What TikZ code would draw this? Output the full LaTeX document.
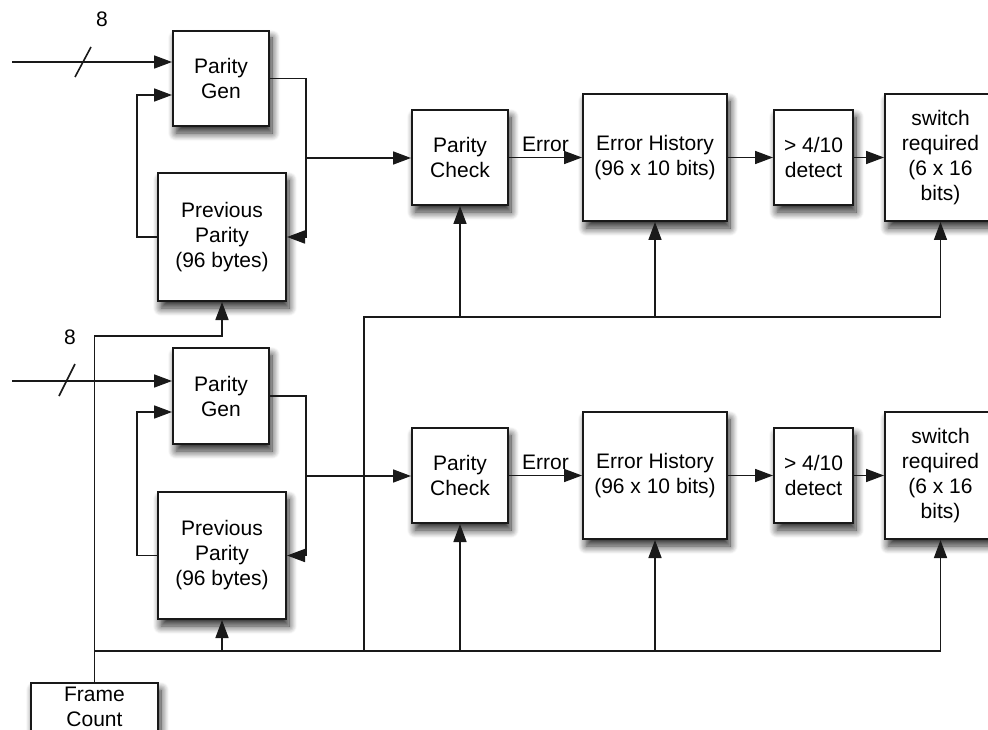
\documentclass[tikz,border=0pt]{standalone}
\usepackage{fontspec}
\setmainfont{Liberation Sans}
\usetikzlibrary{arrows.meta,shadows.blur}

\tikzset{
  blk/.style={draw=black!90, line width=2pt, fill=white, inner sep=0pt,
    align=center, font=\fontsize{21}{25}\selectfont,
    blur shadow={shadow xshift=3pt, shadow yshift=-7pt, shadow blur radius=8pt,
      shadow blur steps=10, shadow opacity=85}},
  wire/.style={draw=black!90, line width=1.6pt},
  arr/.style={wire, -{Triangle[length=18pt,width=13pt]}},
  lbl/.style={font=\fontsize{21}{25}\selectfont, inner sep=2pt},
}

\begin{document}
\begin{tikzpicture}[x=1pt,y=-1pt]
  \useasboundingbox (0,0) rectangle (988,730);
  \clip (0,0) rectangle (988,730);

  % ---- upper channel ----
  \node[blk, minimum width=96pt, minimum height=95pt]  (gen1)  at (221,78.5)  {Parity\\Gen};
  \node[blk, minimum width=128pt, minimum height=128pt] (prev1) at (222,237)  {Previous\\Parity\\(96 bytes)};
  \node[blk, minimum width=96pt, minimum height=95pt]  (chk1)  at (460,157.5) {Parity\\Check};
  \node[blk, minimum width=144pt, minimum height=127pt] (hist1) at (655,157.5) {Error History\\(96 x 10 bits)};
  \node[blk, minimum width=79pt, minimum height=95pt]  (det1)  at (813.5,157.5) {> 4/10\\detect};
  \node[blk, minimum width=111pt, minimum height=127pt] (sw1)  at (940.5,157.5) {switch\\required\\(6 x 16\\bits)};

  % ---- lower channel ----
  \node[blk, minimum width=96pt, minimum height=96pt]  (gen2)  at (221,396)   {Parity\\Gen};
  \node[blk, minimum width=128pt, minimum height=127pt] (prev2) at (222,555.5) {Previous\\Parity\\(96 bytes)};
  \node[blk, minimum width=96pt, minimum height=95pt]  (chk2)  at (460,475.5) {Parity\\Check};
  \node[blk, minimum width=144pt, minimum height=127pt] (hist2) at (655,475.5) {Error History\\(96 x 10 bits)};
  \node[blk, minimum width=79pt, minimum height=95pt]  (det2)  at (813.5,475.5) {> 4/10\\detect};
  \node[blk, minimum width=111pt, minimum height=127pt] (sw2)  at (940.5,475.5) {switch\\required\\(6 x 16\\bits)};

  % ---- frame counter ----
  \node[blk, anchor=north, minimum width=127pt, minimum height=48pt] (fc) at (94.5,682) {Frame\\Count};

  % ---- routing points ----
  \coordinate (in1) at (12,62);
  \coordinate (in2) at (12,381);
  \coordinate (fb1) at (137,95);
  \coordinate (fb2) at (137,412);
  \coordinate (j1)  at (306,158);
  \coordinate (j2)  at (306,476);
  \coordinate (fcTurn) at (94.5,336);
  \coordinate (busL)   at (94.5,651);
  \coordinate (busT)   at (364,317);
  \coordinate (busTB)  at (364,651);

  % 8-bit data inputs
  \draw[arr] (in1) -- (gen1.west |- in1);
  \draw[arr] (in2) -- (gen2.west |- in2);
  \draw[wire] (75,77) -- (91,47);
  \draw[wire] (59,396) -- (75,364);
  \node[lbl] (w1) at (102,19) {8};
  \node[lbl] (w2) at (70,337) {8};

  % feedback from previous parity into the generator
  \draw[arr] (prev1.west) -| (fb1) -- (gen1.west |- fb1);
  \draw[arr] (prev2.west) -| (fb2) -- (gen2.west |- fb2);

  % generator output: stored and checked
  \draw[arr] (gen1.east) -| (j1) |- (prev1.east);
  \draw[arr] (gen2.east) -| (j2) |- (prev2.east);
  \draw[arr] (j1) -- (chk1.west |- j1);
  \draw[arr] (j2) -- (chk2.west |- j2);

  % processing chain
  \draw[arr] (chk1.east) -- node[lbl, above, yshift=3pt] (e1) {Error} (hist1.west |- chk1.east);
  \draw[arr] (chk2.east) -- node[lbl, above, yshift=3pt] (e2) {Error} (hist2.west |- chk2.east);
  \draw[arr] (hist1.east) -- (det1.west);
  \draw[arr] (hist2.east) -- (det2.west);
  \draw[arr] (det1.east) -- (sw1.west);
  \draw[arr] (det2.east) -- (sw2.west);

  % frame count distribution
  \draw[arr] (fc.north) -- (fcTurn) -| (prev1.south);
  \draw[wire] (busL) -- (sw2.south |- busL);
  \draw[wire] (busTB) -- (busT) -- (sw1.south |- busT);
  \draw[arr] (prev2.south |- busL) -- (prev2.south);
  \draw[arr] (chk2.south |- busL) -- (chk2.south);
  \draw[arr] (hist2.south |- busL) -- (hist2.south);
  \draw[arr] (sw2.south |- busL) -- (sw2.south);
  \draw[arr] (chk1.south |- busT) -- (chk1.south);
  \draw[arr] (hist1.south |- busT) -- (hist1.south);
  \draw[arr] (sw1.south |- busT) -- (sw1.south);
\end{tikzpicture}
\end{document}
